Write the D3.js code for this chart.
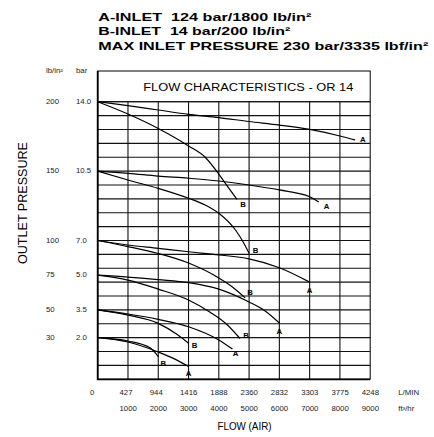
<!DOCTYPE html>
<html>
<head>
<meta charset="utf-8">
<script src="https://cdn.jsdelivr.net/npm/d3@7"></script>
<style>
  body { margin: 0; background: #fff; }
  svg { display: block; font-family: "Liberation Sans", Arial, sans-serif; }
</style>
</head>
<body>
<div id="chart"></div>
<script>
// texts
const headerLines = [
  "A-INLET  124 bar/1800 lb/in²",
  "B-INLET  14 bar/200 lb/in²",
  "MAX INLET PRESSURE 230 bar/3335 lbf/in²"
];
const chartTitle = "FLOW CHARACTERISTICS - OR 14";
const xTitle = "FLOW (AIR)";
const yTitle = "OUTLET PRESSURE";

// tick labels
const flowTicks = [1000, 2000, 3000, 4000, 5000, 6000, 7000, 8000, 9000]; // ft3/hr
const lminTicks = ["427", "944", "1416", "1888", "2360", "2832", "3303", "3775", "4248"];
const barTicks = [14.0, 10.5, 7.0, 5.0, 3.5, 2.0];
const psiTicks = ["200", "150", "100", "75", "50", "30"];

// curves, [flow ft3/hr, outlet pressure bar]
const a14 = [[0, 14.0], [1000, 13.8], [2000, 13.58], [3000, 13.36], [4000, 13.2], [5000, 13.0], [6000, 12.82], [7000, 12.6], [8000, 12.27], [8500, 12.07]];
const b14 = [[0, 14.0], [1000, 13.38], [2000, 12.65], [3000, 11.77], [3550, 11.2], [4000, 10.35], [4300, 9.7], [4600, 9.07]];
const a105 = [[0, 10.5], [1000, 10.39], [2000, 10.25], [3000, 10.14], [4000, 10.0], [5000, 9.8], [6000, 9.55], [7000, 9.21], [7300, 8.94]];
const b105 = [[0, 10.5], [1000, 10.05], [2000, 9.63], [3000, 9.13], [3550, 8.79], [4000, 8.37], [4550, 7.53], [4800, 6.93], [5000, 6.26]];
const a70 = [[0, 7.0], [1000, 6.74], [2000, 6.55], [3000, 6.35], [4000, 6.17], [5000, 5.94], [6000, 5.43], [7000, 4.7]];
const b70 = [[0, 7.0], [1000, 6.65], [2000, 6.25], [3000, 5.7], [4000, 4.88], [4450, 4.49], [4870, 4.02]];
const a50 = [[0, 5.0], [1000, 4.92], [2000, 4.81], [3000, 4.68], [4000, 4.4], [5000, 3.84], [5530, 3.44], [6000, 2.79]];
const b50 = [[0, 5.0], [1000, 4.79], [2000, 4.4], [3000, 3.93], [3700, 3.39], [4250, 2.74], [4700, 1.96]];
const a35 = [[0, 3.5], [1000, 3.28], [2000, 2.99], [3000, 2.59], [4000, 1.89], [4450, 1.45]];
const b35 = [[0, 3.5], [1000, 3.22], [2000, 2.77], [2650, 2.14], [3000, 1.73]];
const a20 = [[0, 2.0], [1000, 1.79], [2000, 1.31], [2550, 0.97], [3000, 0.61]];
const b20 = [[0, 2.0], [1000, 1.84], [1730, 1.51], [2000, 1.09]];

const curves = [
  { name: "A", pts: a14 }, { name: "B", pts: b14 },
  { name: "A", pts: a105 }, { name: "B", pts: b105 },
  { name: "A", pts: a70 }, { name: "B", pts: b70 },
  { name: "A", pts: a50 }, { name: "B", pts: b50 },
  { name: "A", pts: a35 }, { name: "B", pts: b35 },
  { name: "A", pts: a20 }, { name: "B", pts: b20 }
];
// where each end letter sits relative to the curve end (px)
const labelNudge = [[7.7, 0], [6, 5.5], [7.7, 4.7], [6.5, -2.3], [0, 8.7], [5, -4.7],
                    [0, 8.7], [6, -2.8], [3, 5], [6, 2.7], [0, 6.8], [5, 6.8]];

// layout
const W = 434, H = 437;
const plotL = 97.7, plotR = 370.2, plotT = 101.7, plotB = 379.3, boxT = 71;
const nRows = 20;
const rowH = (plotB - plotT) / nRows;
// grid row of each labelled pressure (scale is not linear below 7 bar)
const tickRows = [0, 5, 10, 12.5, 15, 17, 20];
const stretch = 1.2; // small labels are drawn a bit wide

const svg = d3.select("#chart").append("svg")
  .attr("width", W).attr("height", H);

const x = d3.scaleLinear().domain([0, 9000]).range([plotL, plotR]);
const y = d3.scaleLinear()
  .domain([14, 10.5, 7, 5, 3.5, 2, 0])
  .range(tickRows.map(r => plotT + r * rowH));

// header
svg.selectAll("text.head").data(headerLines).enter().append("text")
  .attr("class", "head")
  .attr("x", 98.3)
  .attr("y", (d, i) => 20.6 + i * 14.6)
  .attr("textLength", (d, i) => [213, 192, 330][i])
  .attr("lengthAdjust", "spacingAndGlyphs")
  .style("white-space", "pre")
  .style("font-size", "11.5px")
  .style("font-weight", "bold")
  .text(d => d);

// title box
svg.append("rect")
  .attr("x", plotL).attr("y", boxT)
  .attr("width", plotR - plotL).attr("height", plotT - boxT)
  .attr("fill", "none").attr("stroke", "#000").attr("stroke-width", 1);
svg.append("text")
  .attr("x", 143.3).attr("y", 90.7)
  .attr("textLength", 210).attr("lengthAdjust", "spacingAndGlyphs")
  .style("font-size", "10px")
  .text(chartTitle);

// grid
const grid = svg.append("g").attr("stroke", "#111");
grid.selectAll("line.h").data(d3.range(nRows + 1)).enter().append("line")
  .attr("x1", plotL).attr("x2", plotR)
  .attr("y1", r => plotT + r * rowH).attr("y2", r => plotT + r * rowH)
  .attr("stroke-width", 1.1);
grid.selectAll("line.v").data([0].concat(flowTicks)).enter().append("line")
  .attr("x1", d => x(d)).attr("x2", d => x(d))
  .attr("y1", plotT).attr("y2", plotB)
  .attr("stroke-width", 1.1);
// heavier frame on left and bottom
svg.append("path")
  .attr("d", `M${plotL},${boxT}V${plotB}H${plotR}`)
  .attr("fill", "none").attr("stroke", "#000").attr("stroke-width", 1.8);

// curves
const line = d3.line().x(d => x(d[0])).y(d => y(d[1])).curve(d3.curveMonotoneX);
svg.append("g").selectAll("path").data(curves).enter().append("path")
  .attr("d", d => line(d.pts))
  .attr("fill", "none").attr("stroke", "#000").attr("stroke-width", 1.2);

svg.append("g").selectAll("text").data(curves).enter().append("text")
  .attr("transform", (d, i) => {
    const e = d.pts[d.pts.length - 1];
    return `translate(${x(e[0]) + labelNudge[i][0]},${y(e[1]) + labelNudge[i][1]}) scale(${stretch},1)`;
  })
  .attr("dy", "0.35em")
  .style("text-anchor", "middle")
  .style("font-size", "6.5px")
  .style("font-weight", "bold")
  .text(d => d.name);

// small label helper: left-aligned, stretched sideways
function smallText(px, py, s, mid) {
  svg.append("text")
    .attr("transform", `translate(${px},${py}) scale(${stretch},1)`)
    .attr("dy", mid ? "0.35em" : null)
    .style("font-size", "6.5px")
    .attr("fill", "#222")
    .text(s);
}

// y labels
smallText(46, 72.5, "lb/in²");
smallText(76, 72.5, "bar");
barTicks.forEach((b, i) => {
  smallText(76, y(b), b.toFixed(1), true);
  smallText(46, y(b), psiTicks[i], true);
});

svg.append("text")
  .attr("transform", `translate(26.5,203) rotate(-90)`)
  .style("text-anchor", "middle")
  .attr("textLength", 122).attr("lengthAdjust", "spacingAndGlyphs")
  .style("font-size", "12px")
  .text(yTitle);

// x labels
smallText(90, 394.5, "0");
flowTicks.forEach((f, i) => {
  smallText(x(f) - 8.5, 394.5, lminTicks[i]);
  smallText(x(f) - 8.5, 411, String(f));
});
smallText(398.3, 394.5, "L/MIN");
smallText(398.3, 411, "ft³/hr");

svg.append("text")
  .attr("x", 244.5).attr("y", 429.5)
  .style("text-anchor", "middle")
  .attr("textLength", 54).attr("lengthAdjust", "spacingAndGlyphs")
  .style("font-size", "11px")
  .text(xTitle);
</script>
</body>
</html>
